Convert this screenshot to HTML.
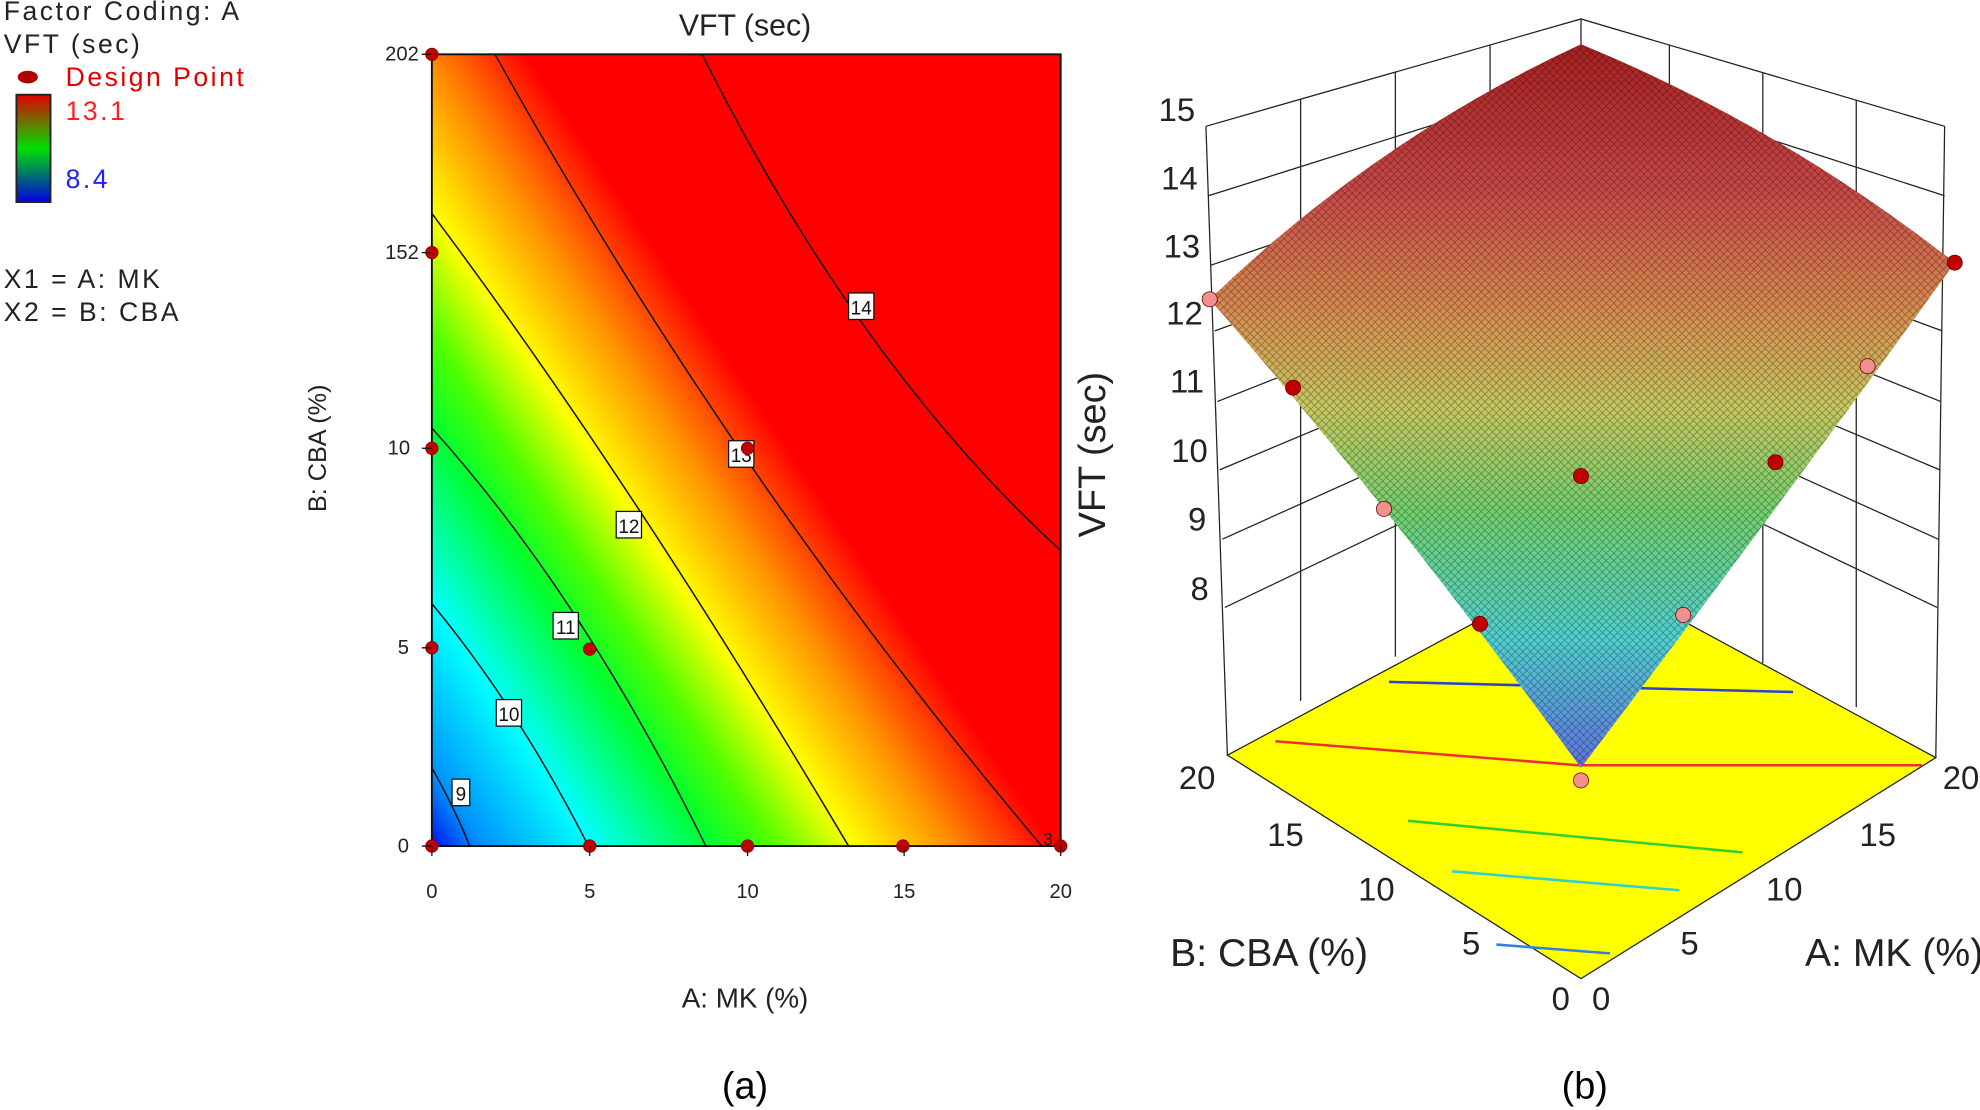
<!DOCTYPE html>
<html><head><meta charset="utf-8"><style>
html,body{margin:0;padding:0;background:#fff;}
svg{display:block;}
text{font-family:"Liberation Sans",sans-serif;}
</style></head><body>
<svg width="1980" height="1110" viewBox="0 0 1568 879" xmlns="http://www.w3.org/2000/svg">
<defs>
<linearGradient id="cg" gradientUnits="userSpaceOnUse" x1="342" y1="670" x2="683" y2="443">
<stop offset="0" stop-color="#0010e8"/>
<stop offset="0.08" stop-color="#0090ff"/>
<stop offset="0.26" stop-color="#00ffff"/>
<stop offset="0.45" stop-color="#00ff30"/>
<stop offset="0.55" stop-color="#50ff00"/>
<stop offset="0.68" stop-color="#ffff00"/>
<stop offset="0.84" stop-color="#ff8c00"/>
<stop offset="1" stop-color="#ff0000"/>
</linearGradient>
<linearGradient id="cb" x1="0" y1="0" x2="0" y2="1">
<stop offset="0" stop-color="#e00000"/><stop offset="0.5" stop-color="#00e000"/><stop offset="1" stop-color="#0000e0"/>
</linearGradient>
<linearGradient id="sg" gradientUnits="userSpaceOnUse" x1="0" y1="35" x2="0" y2="610">
<stop offset="0" stop-color="#a82020"/>
<stop offset="0.2" stop-color="#c84848"/>
<stop offset="0.36" stop-color="#d88a50"/>
<stop offset="0.5" stop-color="#c8c860"/>
<stop offset="0.65" stop-color="#70d070"/>
<stop offset="0.82" stop-color="#50d0d0"/>
<stop offset="1" stop-color="#6070e0"/>
</linearGradient>
<pattern id="mesh" width="6" height="6" patternUnits="userSpaceOnUse">
<path d="M0 0L6 6M6 0L0 6" stroke="#000" stroke-width="0.6" opacity="0.35"/>
</pattern>
</defs>

<!-- Left legend -->
<g font-size="21" fill="#222" font-family="DejaVu Sans, sans-serif" letter-spacing="2">
<text x="3" y="16">Factor Coding: A</text>
<text x="3" y="42">VFT (sec)</text>
<ellipse cx="22" cy="61" rx="8" ry="5" fill="#b00000"/>
<text x="52" y="68" fill="#e00000">Design Point</text>
<rect x="13" y="75" width="27" height="85" fill="url(#cb)" stroke="#222" stroke-width="1.5"/>
<text x="52" y="95" fill="#ff2020">13.1</text>
<text x="52" y="149" fill="#2020ff">8.4</text>
<text x="3" y="228">X1 = A: MK</text>
<text x="3" y="254">X2 = B: CBA</text>
</g>

<!-- Contour plot -->
<rect x="342" y="43" width="498" height="627" fill="url(#cg)"/>
<g fill="none" stroke="#111" stroke-width="1.2">
<path d="M342 608 Q360 640 372 670"/>
<path d="M342 478 Q410 560 466 670"/>
<path d="M342 339 Q460 470 559 670"/>
<path d="M342 169 Q500 380 672 670"/>
<path d="M392 43 Q580 380 825 670"/>
<path d="M556 43 Q680 290 840 436"/>
</g>
<rect x="342" y="43" width="498" height="627" fill="none" stroke="#111" stroke-width="1.5"/>
<g font-size="15" text-anchor="middle" fill="#111">
<g fill="#fff" stroke="#111"><rect x="672" y="232" width="20" height="21"/><rect x="577" y="349" width="20" height="21"/><rect x="488" y="405" width="20" height="21"/><rect x="438" y="485" width="20" height="21"/><rect x="393" y="554" width="20" height="21"/><rect x="358" y="617" width="14" height="21"/></g>
<text x="682" y="249">14</text><text x="587" y="366">13</text><text x="498" y="422">12</text><text x="448" y="502">11</text><text x="403" y="571">10</text><text x="365" y="634">9</text>
</g>
<g fill="#c00000" stroke="#700" stroke-width="0.5">
<circle cx="342" cy="43" r="5"/><circle cx="342" cy="200" r="5"/><circle cx="342" cy="355" r="5"/><circle cx="342" cy="513" r="5"/><circle cx="342" cy="670" r="5"/><circle cx="467" cy="514" r="5"/><circle cx="592" cy="355" r="5"/><circle cx="467" cy="670" r="5"/><circle cx="592" cy="670" r="5"/><circle cx="715" cy="670" r="5"/><circle cx="840" cy="670" r="5"/>
</g>
<g stroke="#111"><path d="M334 43H342M334 200H342M334 355H342M334 513H342M334 670H342M342 670V678M467 670V678M592 670V678M716 670V678M840 670V678"/></g>
<g font-size="16" fill="#222">
<text x="305" y="48">202</text><text x="305" y="205">152</text><text x="307" y="360">10</text><text x="315" y="518">5</text><text x="315" y="675">0</text>
<g text-anchor="middle"><text x="342" y="711">0</text><text x="467" y="711">5</text><text x="592" y="711">10</text><text x="716" y="711">15</text><text x="840" y="711">20</text></g>
<text x="826" y="669" font-size="14">3</text>
</g>
<text x="590" y="28" font-size="24" text-anchor="middle" fill="#222">VFT (sec)</text>
<text x="590" y="798" font-size="22" text-anchor="middle" fill="#222">A: MK (%)</text>
<text transform="translate(258,355) rotate(-90)" font-size="20" text-anchor="middle" fill="#222">B: CBA (%)</text>

<!-- 3D plot walls -->
<g stroke="#222" stroke-width="1" fill="none">
<path d="M955 100 L1252 15 L1540 100"/>
<path d="M1252 15 V448"/>
<path d="M955 100 L972 598 M1540 100 L1533 600"/>
<path d="M957 155 L1252 62 M959 210 L1252 110 M962 262 L1252 157 M964 318 L1252 204 M966 372 L1252 252 M968 427 L1252 299 M970 481 L1252 346"/>
<path d="M1540 155 L1252 62 M1539 210 L1252 110 M1538 262 L1252 157 M1537 318 L1252 204 M1536 372 L1252 252 M1535 427 L1252 299 M1534 481 L1252 346"/>
<path d="M1030 79 V555 M1105 57 V520 M1180 36 V485 M1470 79 V560 M1396 57 V525 M1322 36 V490"/>
</g>
<!-- floor -->
<path d="M972 598 L1252 448 L1533 600 L1252 775 Z" fill="#ffff00" stroke="#222" stroke-width="1"/>
<g fill="none" stroke-width="2">
<path d="M1100 540 L1420 548" stroke="#3040d0"/>
<path d="M1010 587 L1250 606 L1522 606" stroke="#f03030"/>
<path d="M1115 650 L1380 675" stroke="#30d030"/>
<path d="M1150 690 L1330 705" stroke="#30d0d0"/>
<path d="M1185 748 L1275 755" stroke="#3080e0"/>
</g>
<!-- surface -->
<path d="M1252 35 Q1090 110 958 237 Q1100 400 1252 608 Q1410 400 1548 208 Q1410 100 1252 35 Z" fill="url(#sg)"/>
<path d="M1252 35 Q1090 110 958 237 Q1100 400 1252 608 Q1410 400 1548 208 Q1410 100 1252 35 Z" fill="url(#mesh)"/>
<g stroke="#600" stroke-width="0.6">
<circle cx="958" cy="237" r="6" fill="#f09090"/><circle cx="1024" cy="307" r="6" fill="#c00000"/><circle cx="1096" cy="403" r="6" fill="#f09090"/><circle cx="1172" cy="494" r="6" fill="#c00000"/><circle cx="1252" cy="377" r="6" fill="#c00000"/><circle cx="1252" cy="618" r="6" fill="#f09090"/><circle cx="1333" cy="487" r="6" fill="#f09090"/><circle cx="1406" cy="366" r="6" fill="#c00000"/><circle cx="1479" cy="290" r="6" fill="#f09090"/><circle cx="1548" cy="208" r="6" fill="#c00000"/>
</g>
<g font-size="26" fill="#222" text-anchor="middle">
<text x="932" y="96">15</text><text x="934" y="150">14</text><text x="936" y="204">13</text><text x="938" y="257">12</text><text x="940" y="311">11</text><text x="942" y="366">10</text><text x="948" y="420">9</text><text x="950" y="475">8</text>
<text x="948" y="625">20</text><text x="1018" y="670">15</text><text x="1090" y="713">10</text><text x="1165" y="756">5</text><text x="1236" y="800">0</text>
<text x="1268" y="800">0</text><text x="1338" y="756">5</text><text x="1413" y="713">10</text><text x="1487" y="670">15</text><text x="1553" y="625">20</text>
<text x="1005" y="765" font-size="31">B: CBA (%)</text><text x="1500" y="765" font-size="31">A: MK (%)</text>
</g>
<text transform="translate(875,360) rotate(-90)" font-size="30" text-anchor="middle" fill="#222">VFT (sec)</text>
<text x="590" y="870" font-size="30" text-anchor="middle" font-family="Liberation Serif, serif">(a)</text>
<text x="1255" y="870" font-size="30" text-anchor="middle" font-family="Liberation Serif, serif">(b)</text>
</svg>
</body></html>
